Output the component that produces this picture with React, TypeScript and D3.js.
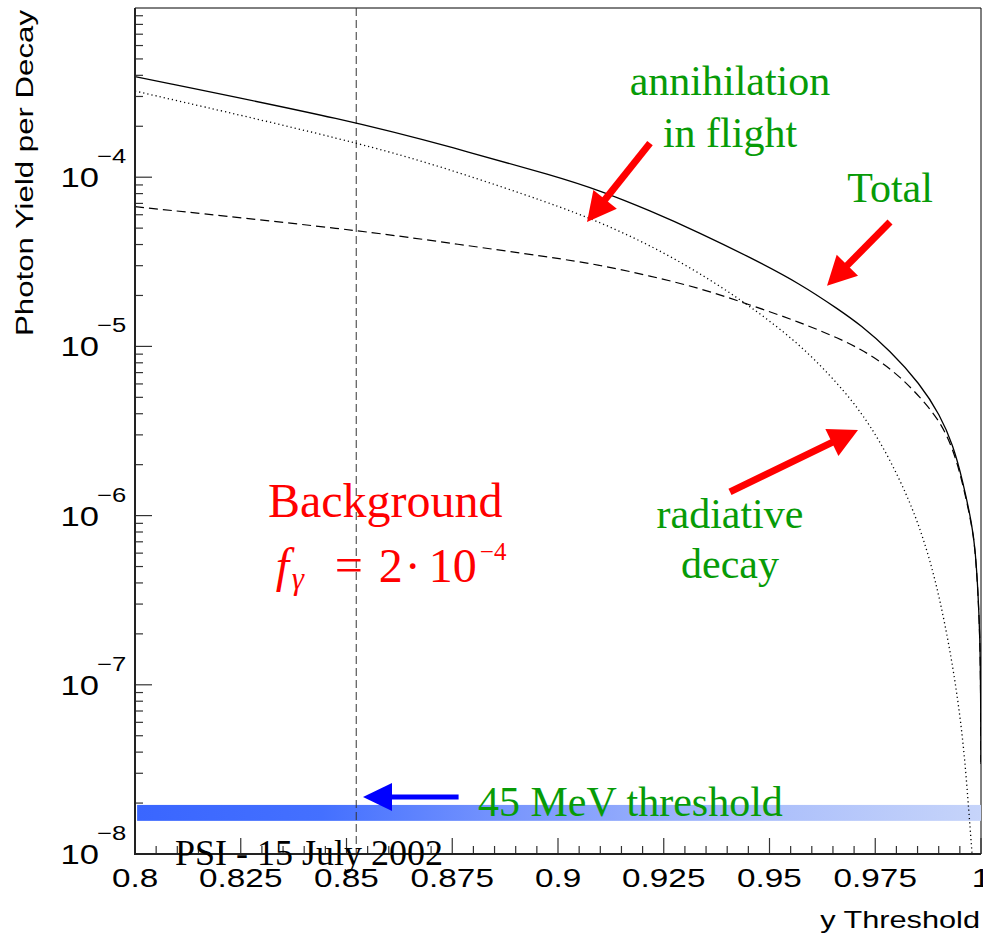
import React from "react";
import * as d3 from "d3";

// ---------- data ----------
const totalX = [0.8, 0.8524, 0.8749, 0.8999, 0.9099, 0.9217, 0.9336, 0.9454, 0.9572, 0.9667, 0.9714, 0.9785, 0.9856, 0.9903, 0.9934, 0.9957, 0.9979, 0.9986, 0.9993, 0.99976, 0.9999, 1.0];
const totalY = [3.93e-4, 2.13e-4, 1.5e-4, 1.007e-4, 8.33e-5, 6.36e-5, 4.68e-5, 3.36e-5, 2.35e-5, 1.63e-5, 1.345e-5, 9.47e-6, 6.0e-6, 3.94e-6, 2.61e-6, 1.6e-6, 8.8e-7, 6.43e-7, 3.63e-7, 1.84e-7, 1.0e-7, 3.5e-8];

const annihX = [0.8, 0.8524, 0.8749, 0.8981, 0.9099, 0.9217, 0.9336, 0.9454, 0.9572, 0.9667, 0.9714, 0.9761, 0.9809, 0.98487, 0.98794, 0.99031, 0.99267, 0.99456, 0.99598, 0.99693, 0.99764, 0.99799];
const annihY = [3.23e-4, 1.62e-4, 1.103e-4, 7.04e-5, 5.43e-5, 3.97e-5, 2.71e-5, 1.733e-5, 1.033e-5, 5.83e-6, 4.15e-6, 2.76e-6, 1.62e-6, 9.5e-7, 5.47e-7, 3.17e-7, 1.61e-7, 8.13e-8, 4.12e-8, 2.08e-8, 1.21e-8, 9.2e-9];

const radX = [0.8, 0.8524, 0.8749, 0.8981, 0.9099, 0.9217, 0.9336, 0.9454, 0.9572, 0.9667, 0.9714, 0.9761, 0.9809, 0.9856, 0.9903, 0.9934, 0.9957, 0.9979, 0.9986, 0.9993, 0.99976, 0.9999, 1.0];
const radY = [6.7e-5, 4.88e-5, 4.06e-5, 3.37e-5, 3.03e-5, 2.61e-5, 2.21e-5, 1.76e-5, 1.39e-5, 1.107e-5, 9.65e-6, 8.2e-6, 6.6e-6, 5.02e-6, 3.62e-6, 2.48e-6, 1.55e-6, 8.6e-7, 6.3e-7, 3.55e-7, 1.8e-7, 9.8e-8, 3.4e-8];

const xMajorTicks = [0.8, 0.825, 0.85, 0.875, 0.9, 0.925, 0.95, 0.975, 1.0];
const xTickLabels = ["0.8", "0.825", "0.85", "0.875", "0.9", "0.925", "0.95", "0.975", "1"];
const yDecadeExps = [-8, -7, -6, -5, -4];
const yDomain = [1e-8, 1e-3];
const xDomain = [0.8, 1.0];

const thresholdX = 0.8523; // 45 MeV / 52.8 MeV
const bandX = [0.8005, 1.0];
const bandY = [1.57e-8, 1.95e-8];

// annotations (data coordinates)
const redArrows = [
  { from: [0.92175, 1.59e-4], to: [0.90686, 5.43e-5] },
  { from: [0.97849, 5.43e-5], to: [0.96359, 2.28e-5] },
  { from: [0.94066, 1.38e-6], to: [0.97092, 3.21e-6] },
];
const blueArrow = { from: [0.8765, 2.17e-8], to: [0.8539, 2.17e-8] };

// ---------- layout ----------
const W = 983, H = 935;
const PL = 135, PR = 981, PT = 8, PB = 854;
const SANS = "'Liberation Sans', Arial, Helvetica, sans-serif";
const SERIF = "'Liberation Serif', 'Times New Roman', Times, serif";
const STRETCH = 1.28;
const GREEN = "#079b07";
const RED = "#ff0000";

const x = d3.scaleLinear().domain(xDomain).range([PL, PR]);
const y = d3.scaleLog().domain(yDomain).range([PB, PT]);

const line = d3
  .line<[number, number]>()
  .x((d) => x(d[0]))
  .y((d) => y(d[1]))
  .curve(d3.curveBasis);

function zip(a: number[], b: number[]): [number, number][] {
  return a.map((v, i) => [v, b[i]]);
}

function Arrow({ x1, y1, x2, y2, color, width, headLen, headHalf }: any) {
  const dx = x2 - x1, dy = y2 - y1;
  const len = Math.hypot(dx, dy);
  const ux = dx / len, uy = dy / len;
  const px = -uy, py = ux;
  const bx = x2 - ux * headLen, by = y2 - uy * headLen;
  const sx = x2 - ux * (headLen - 2), sy = y2 - uy * (headLen - 2);
  const pts = [
    [x2, y2],
    [bx + px * headHalf, by + py * headHalf],
    [bx - px * headHalf, by - py * headHalf],
  ];
  return (
    <g>
      <line x1={x1} y1={y1} x2={sx} y2={sy} stroke={color} strokeWidth={width} />
      <polygon points={pts.map((p) => p.join(",")).join(" ")} fill={color} />
    </g>
  );
}

function SText({ tx, ty, anchor, size, children }: any) {
  return (
    <text
      transform={`translate(${tx},${ty}) scale(${STRETCH},1)`}
      textAnchor={anchor}
      fontSize={size}
      fontFamily={SANS}
      fill="#000"
    >
      {children}
    </text>
  );
}

export default function App() {
  const xMinor: number[] = [];
  for (let i = 0; i <= 40; i++) {
    const v = 0.8 + i * 0.005;
    if (i % 5 !== 0) xMinor.push(v);
  }
  const yMinor: number[] = [];
  for (let e = -8; e < -3; e++) {
    for (let k = 2; k <= 9; k++) yMinor.push(k * Math.pow(10, e));
  }

  const fx = x(0.8333);
  const fy = y(4.05e-7);

  return (
    <svg
      width={W}
      height={H}
      viewBox={`0 0 ${W} ${H}`}
      style={{ position: "absolute", left: 0, top: 0, background: "#fff" }}
    >
      <defs>
        <clipPath id="plot">
          <rect x={PL} y={PT} width={PR - PL} height={PB - PT} />
        </clipPath>
        <linearGradient id="bandGrad" x1="0" x2="1" y1="0" y2="0">
          <stop offset="0" stopColor="#3a66ff" />
          <stop offset="0.22" stopColor="#4470ff" />
          <stop offset="0.45" stopColor="#7a97fd" />
          <stop offset="0.72" stopColor="#a9bdfb" />
          <stop offset="1" stopColor="#c6d4fa" />
        </linearGradient>
      </defs>
      <rect x={0} y={0} width={W} height={H} fill="#fff" />

      {/* frame */}
      <line x1={PL} y1={PT} x2={PR} y2={PT} stroke="#000" strokeWidth={1} />
      <line x1={PR} y1={PT} x2={PR} y2={PB} stroke="#000" strokeWidth={1} />

      {/* threshold band */}
      <rect
        x={x(bandX[0])}
        y={y(bandY[1])}
        width={x(bandX[1]) - x(bandX[0])}
        height={y(bandY[0]) - y(bandY[1])}
        fill="url(#bandGrad)"
      />

      {/* vertical threshold line */}
      <line
        x1={x(thresholdX)}
        x2={x(thresholdX)}
        y1={PT}
        y2={PB}
        stroke="#333"
        strokeWidth={1}
        strokeDasharray="8,4"
      />

      {/* curves */}
      <g clipPath="url(#plot)" fill="none">
        <path d={line(zip(radX, radY)) || ""} stroke="#000" strokeWidth={1.2} strokeDasharray="9,5" />
        <path
          d={line(zip(annihX, annihY)) || ""}
          stroke="#000"
          strokeWidth={1.3}
          strokeDasharray="1.2,3"
        />
        <path d={line(zip(totalX, totalY)) || ""} stroke="#000" strokeWidth={1.3} />
      </g>

      {/* axes ticks */}
      {xMajorTicks.map((v) => (
        <line key={"xM" + v} x1={x(v)} x2={x(v)} y1={PB} y2={PB - 16} stroke="#333" strokeWidth={1.2} />
      ))}
      {xMinor.map((v) => (
        <line key={"xm" + v} x1={x(v)} x2={x(v)} y1={PB} y2={PB - 8} stroke="#333" strokeWidth={1.2} />
      ))}
      {yDecadeExps.map((e) => (
        <line
          key={"yM" + e}
          x1={PL}
          x2={PL + 17}
          y1={y(Math.pow(10, e))}
          y2={y(Math.pow(10, e))}
          stroke="#333"
          strokeWidth={1.2}
        />
      ))}
      {yMinor.map((v, i) => (
        <line key={"ym" + i} x1={PL} x2={PL + 8} y1={y(v)} y2={y(v)} stroke="#333" strokeWidth={1.2} />
      ))}
      <line x1={PL} y1={PT} x2={PL} y2={PB + 1} stroke="#222" strokeWidth={2} />
      <line x1={PL - 1} y1={PB} x2={PR} y2={PB} stroke="#222" strokeWidth={2} />

      {/* tick labels */}
      {xMajorTicks.map((v, i) => (
        <SText key={"xl" + v} tx={x(v)} ty={887} anchor="middle" size={26}>
          {xTickLabels[i]}
        </SText>
      ))}
      {yDecadeExps.map((e) => {
        const yy = y(Math.pow(10, e));
        return (
          <g key={"yl" + e}>
            <SText tx={99} ty={yy + 10} anchor="end" size={27}>
              10
            </SText>
            <SText tx={97} ty={yy - 14} anchor="start" size={20}>
              {"\u2212" + Math.abs(e)}
            </SText>
          </g>
        );
      })}

      {/* axis titles */}
      <SText tx={980} ty={928} anchor="end" size={24}>
        y Threshold
      </SText>
      <g transform="translate(33,10) rotate(-90)">
        <text transform="scale(1.3,1)" textAnchor="end" fontSize={24} fontFamily={SANS} fill="#000">
          Photon Yield per Decay
        </text>
      </g>

      {/* arrows */}
      {redArrows.map((a, i) => (
        <Arrow
          key={"ra" + i}
          x1={x(a.from[0])}
          y1={y(a.from[1])}
          x2={x(a.to[0])}
          y2={y(a.to[1])}
          color={RED}
          width={7}
          headLen={29}
          headHalf={15}
        />
      ))}
      <Arrow
        x1={x(blueArrow.from[0])}
        y1={y(blueArrow.from[1])}
        x2={x(blueArrow.to[0])}
        y2={y(blueArrow.to[1])}
        color="#0000ff"
        width={5}
        headLen={29}
        headHalf={14}
      />

      {/* annotation texts */}
      <g fontFamily={SERIF}>
        <text x={x(0.94066)} y={y(3.06e-4)} textAnchor="middle" fontSize={42} fill={GREEN}>
          annihilation
        </text>
        <text x={x(0.94066)} y={y(1.51e-4)} textAnchor="middle" fontSize={42} fill={GREEN}>
          in flight
        </text>
        <text x={x(0.97849)} y={y(7.13e-5)} textAnchor="middle" fontSize={42} fill={GREEN}>
          Total
        </text>
        <text x={x(0.94066)} y={y(8.45e-7)} textAnchor="middle" fontSize={42} fill={GREEN}>
          radiative
        </text>
        <text x={x(0.94066)} y={y(4.28e-7)} textAnchor="middle" fontSize={42} fill={GREEN}>
          decay
        </text>
        <text x={x(0.88109)} y={y(1.68e-8)} textAnchor="start" fontSize={42} fill={GREEN}>
          45 MeV threshold
        </text>
        <text x={x(0.83144)} y={y(9.81e-7)} textAnchor="start" fontSize={48} fill={RED}>
          Background
        </text>
        <g fill={RED}>
          <text x={fx} y={fy} fontSize={48} fontStyle="italic">f</text>
          <text x={fx + 16} y={fy + 7} fontSize={31} fontStyle="italic">γ</text>
          <text x={fx + 59} y={fy} fontSize={50}>=</text>
          <text x={fx + 103} y={fy} fontSize={48}>2</text>
          <text x={fx + 129} y={fy} fontSize={48}>·</text>
          <text x={fx + 153} y={fy} fontSize={48}>10</text>
          <text x={fx + 204} y={fy - 22} fontSize={25}>−4</text>
        </g>
        <text x={x(0.80946)} y={y(8.6e-9)} textAnchor="start" fontSize={36} fill="#000">
          PSI - 15 July 2002
        </text>
      </g>
    </svg>
  );
}
